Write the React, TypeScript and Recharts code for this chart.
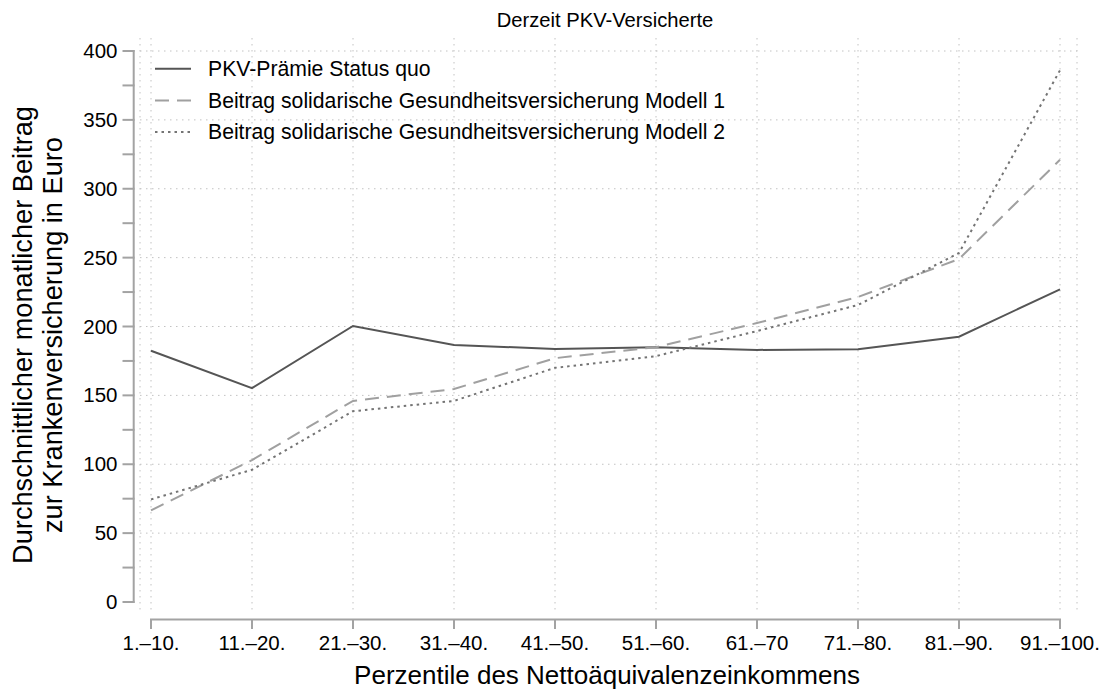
import React from 'react';
import { LineChart, Line, XAxis, YAxis, CartesianGrid, Legend, ReferenceLine, Label } from 'recharts';

const categories = ['1.–10.', '11.–20.', '21.–30.', '31.–40.', '41.–50.', '51.–60.', '61.–70', '71.–80.', '81.–90.', '91.–100.'];
const statusQuo = [182.4, 155.3, 200.4, 186.6, 183.7, 185, 183, 183.5, 192.6, 227];
const modell1 = [66.5, 103, 146, 154.6, 177, 185, 202.5, 221.4, 249, 321];
const modell2 = [74.5, 96, 138.5, 146, 170, 178.5, 196.7, 215.6, 253.4, 386];
const seriesNames = [
  'PKV-Prämie Status quo',
  'Beitrag solidarische Gesundheitsversicherung Modell 1',
  'Beitrag solidarische Gesundheitsversicherung Modell 2',
];
const yTicks = [0, 25, 50, 75, 100, 125, 150, 175, 200, 225, 250, 275, 300, 325, 350, 375, 400];
const yLabelTicks = [0, 50, 100, 150, 200, 250, 300, 350, 400];
const gridValues = [50, 100, 150, 200, 250, 300, 350, 400];
const chartTitle = 'Derzeit PKV-Versicherte';
const xTitle = 'Perzentile des Nettoäquivalenzeinkommens';
const yTitleLines = ['Durchschnittlicher monatlicher Beitrag', 'zur Krankenversicherung in Euro'];

const data = categories.map((cat, i) => ({
  cat,
  statusQuo: statusQuo[i],
  modell1: modell1[i],
  modell2: modell2[i],
}));

const FONT = '"Liberation Sans", Arial, Helvetica, sans-serif';
const AXIS_COLOR = '#a3a3a3';

const seriesDefs = [
  { key: 'statusQuo', name: seriesNames[0], color: '#555555', dash: undefined as string | undefined },
  { key: 'modell1', name: seriesNames[1], color: '#a0a0a0', dash: '14 8' },
  { key: 'modell2', name: seriesNames[2], color: '#747474', dash: '2.5 4' },
];

const XTick = (props: any) => {
  const { x, y, payload } = props;
  return (
    <g>
      <line x1={x} x2={x} y1={y + 7.5} y2={y + 17} stroke={AXIS_COLOR} strokeWidth={2} />
      <text x={x} y={y + 38} textAnchor="middle" fontSize={20.5} fill="#000" fontFamily={FONT}>
        {payload.value}
      </text>
    </g>
  );
};

const YTick = (props: any) => {
  const { x, y, payload } = props;
  const showLabel = yLabelTicks.includes(payload.value);
  return (
    <g>
      <line x1={x - 5.5} x2={x - 17.5} y1={y} y2={y} stroke={AXIS_COLOR} strokeWidth={2} />
      {showLabel && (
        <text x={x - 22.5} y={y + 7} textAnchor="end" fontSize={20.5} fill="#000" fontFamily={FONT}>
          {payload.value}
        </text>
      )}
    </g>
  );
};

const YTitle = () => (
  <g>
    {yTitleLines.map((t, i) => {
      const bx = 32 + i * 29.5;
      const cy = 335;
      return (
        <text
          key={i}
          x={bx}
          y={cy}
          transform={`rotate(-90, ${bx}, ${cy})`}
          textAnchor="middle"
          fontSize={27.2}
          fill="#000"
          fontFamily={FONT}
        >
          {t}
        </text>
      );
    })}
  </g>
);

const XTitle = (props: any) => {
  const vb = props.viewBox || { x: 140, width: 937 };
  return (
    <text x={vb.x + vb.width / 2 - 1.5} y={684} textAnchor="middle" fontSize={26} fill="#000" fontFamily={FONT}>
      {xTitle}
    </text>
  );
};

const renderLegend = () => (
  <svg width={640} height={100} style={{ display: 'block' }}>
    {seriesDefs.map((s, i) => {
      const cy = 16.7 + i * 31.7;
      return (
        <g key={s.key}>
          <line x1={5} x2={41} y1={cy} y2={cy} stroke={s.color} strokeWidth={2} strokeDasharray={s.dash} />
          <text x={58} y={cy + 7.3} fontSize={21.2} fill="#000" fontFamily={FONT}>
            {s.name}
          </text>
        </g>
      );
    })}
  </svg>
);

export default function App() {
  return (
    <div style={{ position: 'absolute', left: 0, top: 0, width: 1108, height: 693, background: '#fff' }}>
      <LineChart width={1108} height={693} data={data} margin={{ top: 38, right: 31, bottom: 31, left: 80 }}>
        <CartesianGrid horizontalValues={gridValues} stroke="#c2c2c2" strokeDasharray="1.5 4.5" strokeWidth={1} />
        <XAxis
          dataKey="cat"
          height={50}
          padding={{ left: 11, right: 17 }}
          axisLine={false}
          tickLine={false}
          tickSize={0}
          tickMargin={0}
          interval={0}
          tick={<XTick />}
        >
          <Label content={<XTitle />} />
        </XAxis>
        <YAxis
          width={60}
          domain={[0, 400]}
          ticks={yTicks}
          padding={{ top: 13, bottom: 10 }}
          axisLine={false}
          tickLine={false}
          tickSize={0}
          tickMargin={0}
          interval={0}
          tick={<YTick />}
        >
          <Label content={<YTitle />} />
        </YAxis>
        <ReferenceLine
          segment={[{ x: categories[0], y: 0 }, { x: categories[categories.length - 1], y: 0 }]}
          ifOverflow="visible"
          shape={(p: any) => (
            <line x1={p.x1 - 1} x2={p.x2 + 1} y1={p.y1 + 17.5} y2={p.y2 + 17.5} stroke={AXIS_COLOR} strokeWidth={2} />
          )}
        />
        <ReferenceLine
          segment={[{ x: categories[0], y: 0 }, { x: categories[0], y: 400 }]}
          ifOverflow="visible"
          shape={(p: any) => (
            <line x1={p.x1 - 17.3} x2={p.x2 - 17.3} y1={p.y1 + 1} y2={p.y2 - 1} stroke={AXIS_COLOR} strokeWidth={2} />
          )}
        />
        {seriesDefs.map((s) => (
          <Line
            key={s.key}
            type="linear"
            dataKey={s.key}
            name={s.name}
            stroke={s.color}
            strokeWidth={2}
            strokeDasharray={s.dash}
            dot={false}
            activeDot={false}
            isAnimationActive={false}
          />
        ))}
        <Legend
          layout="vertical"
          align="center"
          verticalAlign="middle"
          content={renderLegend}
          wrapperStyle={{ left: 150, top: 52, width: 640, height: 100 }}
        />
        <text x={605} y={27} textAnchor="middle" fontSize={20.2} fill="#000" fontFamily={FONT}>
          {chartTitle}
        </text>
      </LineChart>
    </div>
  );
}
